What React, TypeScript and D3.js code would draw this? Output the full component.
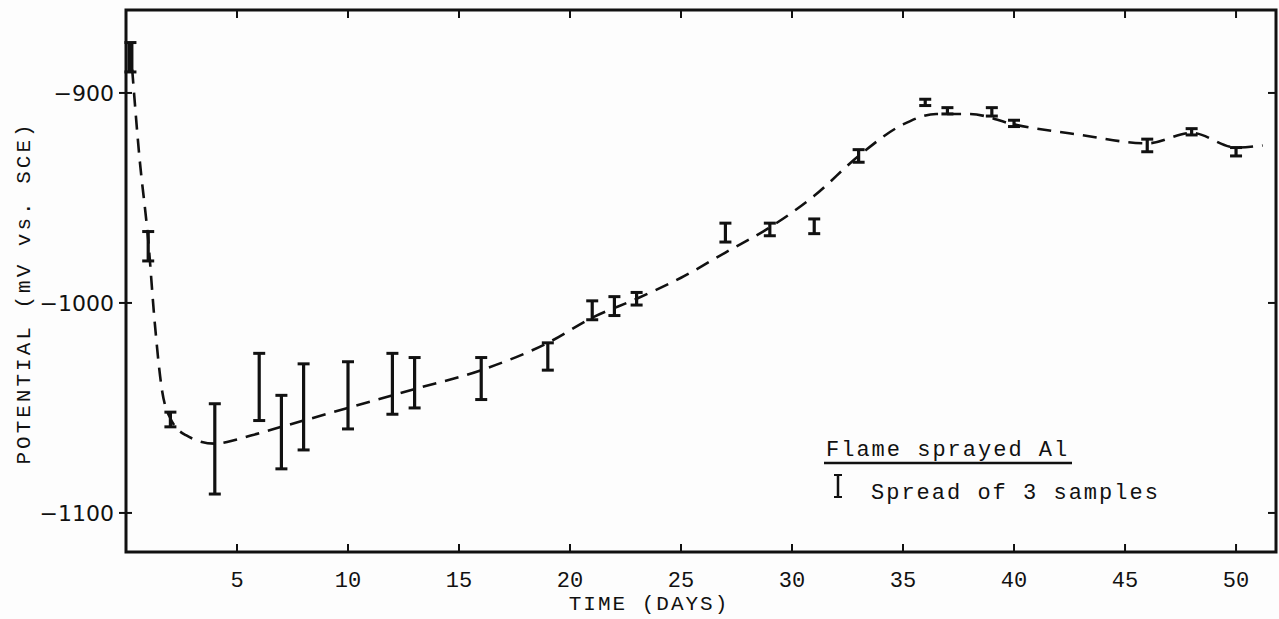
import React, { useEffect, useRef } from 'react'
import * as d3 from 'd3'

// spread of 3 samples: day, top (mV), bottom (mV)
const days = [0.2, 1, 2, 4, 6, 7, 8, 10, 12, 13, 16, 19, 21, 22, 23, 27, 29, 31, 33, 36, 37, 39, 40, 46, 48, 50]
const spreadHigh = [-876, -966, -1052, -1048, -1024, -1044, -1029, -1028, -1024, -1026, -1026, -1019, -999, -997, -995, -962, -962, -960, -927, -903, -907, -907, -913, -922, -917, -926]
const spreadLow = [-890, -980, -1059, -1091, -1056, -1079, -1070, -1060, -1053, -1050, -1046, -1032, -1008, -1006, -1001, -971, -968, -967, -933, -906, -910, -911, -916, -928, -920, -930]

// hand drawn trend (dashed)
const trendDays = [0.2, 0.6, 1, 1.3, 1.6, 2, 2.7, 4, 5, 6, 7, 8, 10, 12, 13, 16, 19, 21, 23, 25, 27, 29, 31, 33, 35, 36.5, 38, 40, 43, 46, 48, 50, 51.2]
const trendMv = [-878, -930, -970, -1010, -1040, -1055, -1063, -1067, -1065, -1062, -1059, -1056, -1050, -1044, -1041, -1032, -1019, -1007, -998, -988, -976, -964, -949, -930, -915, -910, -910, -915, -920, -924, -919, -926, -925]

const xTicks = [5, 10, 15, 20, 25, 30, 35, 40, 45, 50]
const yTicks = [-900, -1000, -1100]

export default function App() {
  const ref = useRef<SVGSVGElement>(null)

  useEffect(() => {
    const width = 1279, height = 619
    const margin = { top: 10, right: 3, bottom: 67, left: 126 }
    const w = width - margin.left - margin.right
    const h = height - margin.top - margin.bottom

    const svg = d3.select(ref.current)
    svg.selectAll('*').remove()
    svg.append('rect').attr('width', width).attr('height', height).attr('fill', '#fdfdfd')

    const g = svg.append('g').attr('transform', `translate(${margin.left},${margin.top})`)

    const x = d3.scaleLinear().domain([0, 51.8]).range([0, w])
    const y = d3.scaleLinear().domain([-1118.6, -860.5]).range([h, 0])

    const mono = '"Liberation Mono", "DejaVu Sans Mono", monospace'

    // frame
    g.append('rect').attr('width', w).attr('height', h)
      .attr('fill', 'none').attr('stroke', '#111').attr('stroke-width', 3)

    // x ticks, bottom and top, inward
    g.selectAll('.xt').data(xTicks).enter().append('line')
      .attr('x1', d => x(d)).attr('x2', d => x(d))
      .attr('y1', h).attr('y2', h - 8)
      .attr('stroke', '#111').attr('stroke-width', 2)
    g.selectAll('.xtt').data(xTicks).enter().append('line')
      .attr('x1', d => x(d)).attr('x2', d => x(d))
      .attr('y1', 0).attr('y2', 8)
      .attr('stroke', '#111').attr('stroke-width', 2)
    g.selectAll('.xl').data(xTicks).enter().append('text')
      .attr('x', d => x(d)).attr('y', h + 35)
      .attr('text-anchor', 'middle')
      .style('font-family', mono).style('font-size', '22px')
      .attr('fill', '#111')
      .text(d => d)

    // y ticks, left and right
    g.selectAll('.yt').data(yTicks).enter().append('line')
      .attr('x1', -7).attr('x2', 6)
      .attr('y1', d => y(d)).attr('y2', d => y(d))
      .attr('stroke', '#111').attr('stroke-width', 2)
    g.selectAll('.ytr').data(yTicks).enter().append('line')
      .attr('x1', w - 8).attr('x2', w)
      .attr('y1', d => y(d)).attr('y2', d => y(d))
      .attr('stroke', '#111').attr('stroke-width', 2)
    g.selectAll('.yl').data(yTicks).enter().append('text')
      .attr('x', -12).attr('y', d => y(d) + 8)
      .attr('text-anchor', 'end')
      .style('font-family', '"DejaVu Sans", sans-serif').style('font-size', '22px')
      .attr('fill', '#111')
      .text(d => '\u2212' + Math.abs(d))

    // axis titles
    g.append('text')
      .attr('x', w / 2 - 52).attr('y', h + 58)
      .attr('text-anchor', 'middle')
      .style('font-family', mono).style('font-size', '21px').style('letter-spacing', '2px')
      .attr('fill', '#111')
      .text('TIME (DAYS)')
    g.append('text')
      .attr('transform', `translate(-96,${y(-1000) - 10}) rotate(-90)`)
      .attr('text-anchor', 'middle')
      .style('font-family', mono).style('font-size', '21px').style('letter-spacing', '3px')
      .attr('fill', '#111')
      .text('POTENTIAL (mV vs. SCE)')

    // dashed trend
    const pts = trendDays.map((d, i) => [d, trendMv[i]] as [number, number])
    g.append('path')
      .datum(pts)
      .attr('fill', 'none')
      .attr('stroke', '#111')
      .attr('stroke-width', 2.6)
      .attr('stroke-dasharray', '14,9')
      .attr('d', d3.line<[number, number]>()
        .x(d => x(d[0]))
        .y(d => y(d[1]))
        .curve(d3.curveMonotoneX))

    // spread bars
    const bars = g.selectAll('.bar').data(days).enter().append('g')
    bars.append('line')
      .attr('x1', d => x(d)).attr('x2', d => x(d))
      .attr('y1', (d, i) => y(spreadHigh[i])).attr('y2', (d, i) => y(spreadLow[i]))
      .attr('stroke', '#111').attr('stroke-width', (d, i) => i === 0 ? 6 : 3.2)
    bars.append('line')
      .attr('x1', d => x(d) - 6).attr('x2', d => x(d) + 6)
      .attr('y1', (d, i) => y(spreadHigh[i])).attr('y2', (d, i) => y(spreadHigh[i]))
      .attr('stroke', '#111').attr('stroke-width', 3)
    bars.append('line')
      .attr('x1', d => x(d) - 6).attr('x2', d => x(d) + 6)
      .attr('y1', (d, i) => y(spreadLow[i])).attr('y2', (d, i) => y(spreadLow[i]))
      .attr('stroke', '#111').attr('stroke-width', 3)

    // legend
    const lg = svg.append('g').attr('transform', 'translate(826,456)')
    lg.append('text')
      .style('font-family', mono).style('font-size', '22px').style('letter-spacing', '2px')
      .attr('fill', '#111')
      .text('Flame sprayed Al')
    lg.append('line').attr('x1', -2).attr('x2', 246).attr('y1', 7).attr('y2', 7)
      .attr('stroke', '#111').attr('stroke-width', 2.5)
    lg.append('line').attr('x1', 12).attr('x2', 12).attr('y1', 19).attr('y2', 41)
      .attr('stroke', '#111').attr('stroke-width', 2.5)
    lg.append('line').attr('x1', 8).attr('x2', 16).attr('y1', 19).attr('y2', 19)
      .attr('stroke', '#111').attr('stroke-width', 2)
    lg.append('line').attr('x1', 8).attr('x2', 16).attr('y1', 41).attr('y2', 41)
      .attr('stroke', '#111').attr('stroke-width', 2)
    lg.append('text')
      .attr('x', 45).attr('y', 43)
      .style('font-family', mono).style('font-size', '22px').style('letter-spacing', '2px')
      .attr('fill', '#111')
      .text('Spread of 3 samples')
  }, [])

  return (
    <svg ref={ref} width={1279} height={619}
      style={{ position: 'absolute', left: 0, top: 0, display: 'block' }} />
  )
}
